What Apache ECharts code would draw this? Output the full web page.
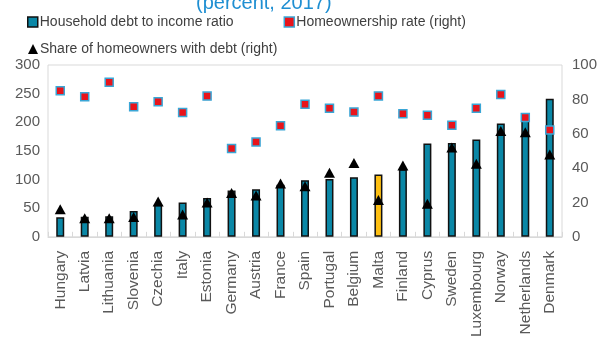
<!DOCTYPE html>
<html>
<head>
<meta charset="utf-8">
<script src="https://cdn.jsdelivr.net/npm/echarts@6/dist/echarts.min.js"></script>
<style>
  html, body { margin: 0; padding: 0; background: #fff; }
  #chart { width: 603px; height: 340px; }
</style>
</head>
<body>
<div id="chart"></div>
<script>
// Household debt and homeownership across European countries, 2017
const countries = ['Hungary', 'Latvia', 'Lithuania', 'Slovenia', 'Czechia', 'Italy', 'Estonia',
  'Germany', 'Austria', 'France', 'Spain', 'Portugal', 'Belgium', 'Malta', 'Finland', 'Cyprus',
  'Sweden', 'Luxembourg', 'Norway', 'Netherlands', 'Denmark'];
const debtToIncome = [34, 35, 36, 45, 56, 60, 68, 81, 83, 91, 99, 101, 104, 109, 118, 163, 164, 170, 198, 205, 241];
const homeownershipRate = [85, 81.5, 90, 75.7, 78.6, 72.4, 81.9, 51.4, 55.2, 64.7, 77.2, 74.9, 72.6, 82, 71.6, 70.7, 65, 74.9, 82.8, 69.5, 62.2];
const ownersWithDebt = [16, 10.8, 10.8, 11.6, 20.5, 13, 20, 25.5, 24, 31, 29.5, 37.3, 42.9, 21.4, 41.5, 19.3, 52, 42.5, 61.6, 60.8, 47.9];
const highlighted = 'Malta';
const leftTicks = { min: 0, max: 300, interval: 50 };
const rightTicks = { min: 0, max: 100, interval: 20 };

const barColor = '#0a87a6';
const highlightColor = '#fdbf12';
const textColor = '#595959';
const fontFamily = 'Liberation Sans, Arial, sans-serif';

const chart = echarts.init(document.getElementById('chart'), null, { renderer: 'canvas' });

chart.setOption({
  animation: false,
  textStyle: { fontFamily },
  title: {
    text: '(percent, 2017)',
    left: 191,
    top: -12,
    textStyle: { color: '#1f8fd2', fontSize: 20, fontWeight: 'normal', fontFamily }
  },
  legend: [
    {
      left: 22, top: 10, itemGap: 50, itemWidth: 10, itemHeight: 10,
      textStyle: { color: '#404040', fontSize: 14, fontFamily, padding: [0, 0, 0, -3] },
      data: [
        { name: 'Household debt to income ratio', icon: 'rect', itemStyle: { color: barColor, borderColor: '#111', borderWidth: 1.5 } },
        { name: 'Homeownership rate (right)', icon: 'rect', itemStyle: { color: '#e8141b', borderColor: '#3aa6d6', borderWidth: 1.5 } }
      ]
    },
    {
      left: 23, top: 37, itemWidth: 10, itemHeight: 10,
      textStyle: { color: '#404040', fontSize: 14, fontFamily, padding: [0, 0, 0, -3] },
      data: [{ name: 'Share of homeowners with debt (right)', icon: 'triangle', itemStyle: { color: '#000' } }]
    }
  ],
  grid: {
    left: 48, right: 41, top: 65, bottom: 102,
    show: true, borderColor: '#d9d9d9', borderWidth: 1, containLabel: false
  },
  xAxis: {
    type: 'category',
    data: countries,
    axisLine: { lineStyle: { color: '#d9d9d9' } },
    axisTick: { show: true, inside: true, length: 5, lineStyle: { color: '#d9d9d9' } },
    axisLabel: { rotate: 90, color: textColor, fontSize: 15.5, margin: 14, fontFamily, interval: 0 }
  },
  yAxis: [
    {
      type: 'value', ...leftTicks,
      splitLine: { show: false },
      axisLine: { show: false }, axisTick: { show: false },
      axisLabel: { color: textColor, fontSize: 15, margin: 8, fontFamily }
    },
    {
      type: 'value', ...rightTicks,
      splitLine: { show: false },
      axisLine: { show: false }, axisTick: { show: false },
      axisLabel: { color: textColor, fontSize: 15, margin: 10, fontFamily }
    }
  ],
  series: [
    {
      name: 'Household debt to income ratio',
      type: 'bar',
      yAxisIndex: 0,
      barWidth: 8,
      itemStyle: { color: barColor, borderColor: '#111', borderWidth: 1.5 },
      data: debtToIncome.map((v, i) => countries[i] === highlighted
        ? { value: v, itemStyle: { color: highlightColor } }
        : v),
      z: 2
    },
    {
      name: 'Homeownership rate (right)',
      type: 'scatter',
      yAxisIndex: 1,
      symbol: 'rect',
      symbolSize: 8,
      itemStyle: { color: '#e8141b', borderColor: '#3aa6d6', borderWidth: 1.5, opacity: 1 },
      data: homeownershipRate,
      z: 4
    },
    {
      name: 'Share of homeowners with debt (right)',
      type: 'scatter',
      yAxisIndex: 1,
      symbol: 'triangle',
      symbolSize: [11, 10],
      itemStyle: { color: '#000', opacity: 1 },
      data: ownersWithDebt,
      z: 3
    }
  ]
});
</script>
</body>
</html>
